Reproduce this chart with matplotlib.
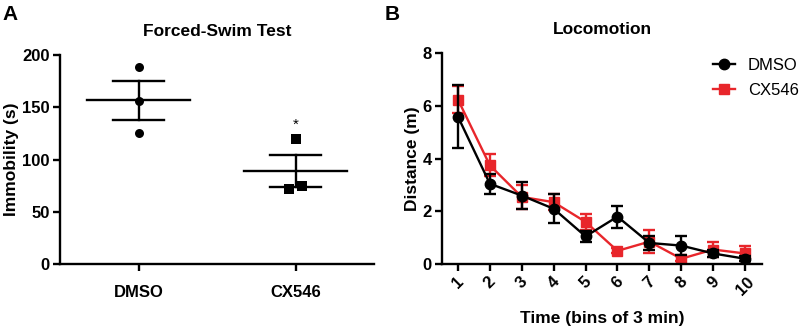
import matplotlib
matplotlib.use("Agg")
import matplotlib.pyplot as plt
from matplotlib.lines import Line2D
import numpy as np

plt.rcParams['font.family'] = ['Liberation Sans', 'DejaVu Sans']

# Forced-swim test (individual animals)
fst_groups = ['DMSO', 'CX546']
fst_dmso = [189, 156, 125]
fst_cx = [120, 72, 75]
fst_cx_jitter = [0.0, -0.04, 0.04]

# Locomotion (distance per 3-min bin)
bins = [1, 2, 3, 4, 5, 6, 7, 8, 9, 10]
loco_dmso = [5.6, 3.05, 2.6, 2.1, 1.05, 1.8, 0.8, 0.7, 0.4, 0.2]
loco_dmso_err = [1.2, 0.38, 0.5, 0.55, 0.2, 0.42, 0.25, 0.35, 0.15, 0.1]
loco_cx = [6.25, 3.75, 2.55, 2.35, 1.6, 0.5, 0.85, 0.2, 0.55, 0.4]
loco_cx_err = [0.5, 0.42, 0.45, 0.3, 0.3, 0.1, 0.45, 0.1, 0.3, 0.3]

RED = '#e8262b'
LW = 1.7

fig = plt.figure(figsize=(8, 3.31), dpi=100)
axA = fig.add_axes([0.075, 0.2024, 0.3925, 0.631])
axB = fig.add_axes([0.5525, 0.2024, 0.40, 0.636])


def style(ax):
    for s in ['top', 'right']:
        ax.spines[s].set_visible(False)
    for s in ['left', 'bottom']:
        ax.spines[s].set_linewidth(LW)
    ax.tick_params(width=LW, length=5, labelsize=12)
    ax.tick_params(axis='y', pad=2.5)
    for lab in ax.get_xticklabels() + ax.get_yticklabels():
        lab.set_fontweight('bold')


# Panel A
for i, (vals, marker, jit) in enumerate([(fst_dmso, 'o', [0, 0, 0]),
                                         (fst_cx, 's', fst_cx_jitter)]):
    vals = np.array(vals, dtype=float)
    m = vals.mean()
    sem = vals.std(ddof=1) / np.sqrt(len(vals))
    ax = axA
    ax.plot([i - 0.33, i + 0.33], [m, m], color='black', lw=LW)
    ax.plot([i - 0.165, i + 0.165], [m + sem, m + sem], color='black', lw=LW)
    ax.plot([i - 0.165, i + 0.165], [m - sem, m - sem], color='black', lw=LW)
    ax.plot([i, i], [m - sem, m + sem], color='black', lw=LW)
    ax.scatter(np.array(jit) + i, vals, marker=marker, color='black', s=42,
               linewidths=0, zorder=3)

axA.text(1, 133, '*', ha='center', va='center', fontsize=11)
axA.set_xlim(-0.5, 1.5)
axA.set_ylim(0, 200)
axA.set_xticks([0, 1])
axA.set_xticklabels(fst_groups)
axA.set_yticks([0, 50, 100, 150, 200])
axA.set_ylabel('Immobility (s)', fontsize=12.5, fontweight='bold', labelpad=2)
axA.set_title('Forced-Swim Test', fontsize=12.5, fontweight='bold', pad=14)
style(axA)
axA.tick_params(axis='x', pad=10)

# Panel B
axB.errorbar(bins, loco_cx, yerr=loco_cx_err, color=RED, marker='s', ms=7,
             lw=LW, capsize=4, capthick=LW, elinewidth=LW, zorder=2)
axB.errorbar(bins, loco_dmso, yerr=loco_dmso_err, color='black', marker='o', ms=7.5,
             lw=LW, capsize=4, capthick=LW, elinewidth=LW, zorder=3)
axB.set_xlim(0.5, 10.53)
axB.set_ylim(0, 8)
axB.set_yticks([0, 2, 4, 6, 8])
axB.set_xticks(bins)
axB.set_xticklabels([str(b) for b in bins], rotation=45, ha='center')
axB.set_xlabel('Time (bins of 3 min)', fontsize=12.5, fontweight='bold', labelpad=9)
axB.set_ylabel('Distance (m)', fontsize=12.5, fontweight='bold', labelpad=2)
axB.set_title('Locomotion', fontsize=12.5, fontweight='bold', pad=14)
style(axB)
axB.tick_params(axis='x', pad=2.5)
handles = [Line2D([], [], color='black', marker='o', ms=7.5, lw=LW),
           Line2D([], [], color=RED, marker='s', ms=7, lw=LW)]
axB.legend(handles, ['DMSO', 'CX546'], loc='upper left', bbox_to_anchor=(0.847, 0.98),
           frameon=False, fontsize=12, handlelength=1.3, handletextpad=0.8,
           labelspacing=0.62, borderaxespad=0, borderpad=0)

fig.text(0.003, 0.985, 'A', fontsize=15, fontweight='bold', va='top')
fig.text(0.481, 0.985, 'B', fontsize=15, fontweight='bold', va='top')

fig.savefig('out.png', dpi=100)
